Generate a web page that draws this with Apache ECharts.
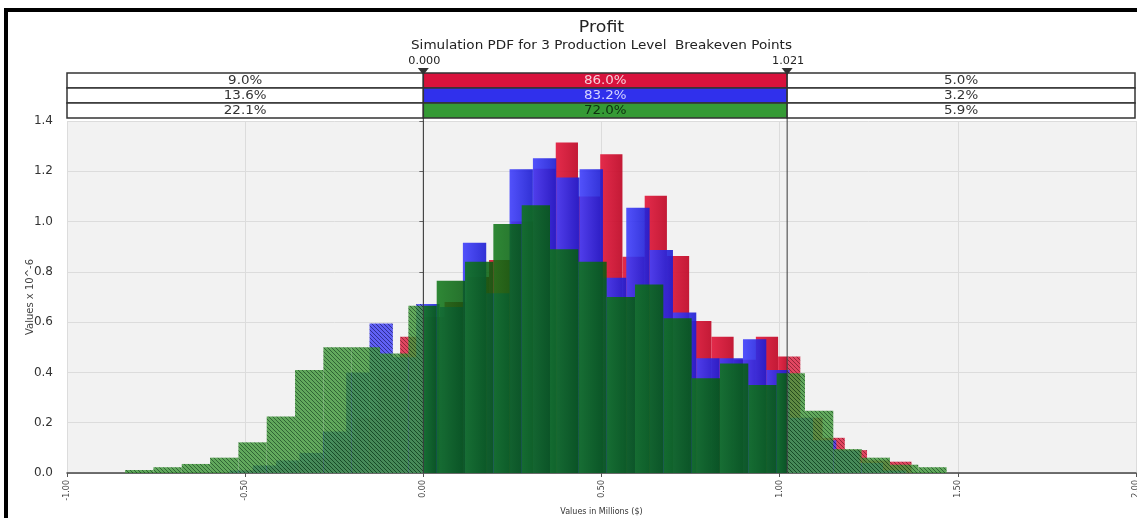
<!DOCTYPE html>
<html>
<head>
<meta charset="utf-8">
<script src="https://cdn.jsdelivr.net/npm/echarts@6/dist/echarts.min.js"></script>
<style>
  html, body { margin: 0; padding: 0; background: #ffffff; }
  #chart { width: 1137px; height: 518px; }
</style>
</head>
<body>
<div id="chart"></div>
<script>
// Breakeven limits (millions $)
const BREAKS = [0.000, 1.021];
// Share of each simulation below / between / above the limits (%)
const PCT_LOW = [9.0, 13.6, 22.1];
const PCT_MID = [86.0, 83.2, 72.0];
const PCT_HIGH = [5.0, 3.2, 5.9];

// Histogram bins: first edge, bin width (millions $) and density (x 10^-6)
const RED_START = -0.502, RED_WIDTH = 0.0624;
const RED_VALUES = [0.01, 0.02, 0.04, 0.06, 0.13, 0.22, 0.40, 0.542, 0.62, 0.68,
  0.78, 0.847, 1.00, 1.21, 1.314, 1.10, 1.268, 0.86, 1.103, 0.863,
  0.605, 0.542, 0.45, 0.542, 0.463, 0.22, 0.14, 0.091, 0.05, 0.045];

const BLUE_START = -0.544, BLUE_WIDTH = 0.0655;
const BLUE_VALUES = [0.01, 0.03, 0.05, 0.08, 0.165, 0.40, 0.595, 0.46, 0.672, 0.66,
  0.916, 0.715, 1.208, 1.252, 1.175, 1.208, 0.777, 1.055, 0.887, 0.638,
  0.456, 0.456, 0.532, 0.41, 0.22, 0.13, 0.09, 0.04, 0.01];

const GREEN_START = -0.837, GREEN_WIDTH = 0.0795;
const GREEN_VALUES = [0.012, 0.023, 0.036, 0.061, 0.122, 0.225, 0.41, 0.50, 0.50, 0.475,
  0.665, 0.765, 0.84, 0.99, 1.065, 0.89, 0.84, 0.70, 0.75, 0.615,
  0.377, 0.436, 0.35, 0.397, 0.248, 0.095, 0.061, 0.033, 0.023];

const FONT = 'DejaVu Sans, Verdana, sans-serif';

// Diagonal hatch tile used for the part of each bar outside the breakeven range
function hatchPattern(base, line) {
  const c = document.createElement('canvas');
  c.width = c.height = 4;
  const ctx = c.getContext('2d');
  ctx.fillStyle = base;
  ctx.fillRect(0, 0, 4, 4);
  for (let i = 0; i < 4; i++) {
    ctx.clearRect(i, i, 1, 1);
    ctx.fillStyle = line;
    ctx.fillRect(i, i, 1, 1);
  }
  return { image: c, repeat: 'repeat' };
}

function gradient(left, right) {
  return new echarts.graphic.LinearGradient(0, 0, 1, 0, [
    { offset: 0, color: left }, { offset: 1, color: right }
  ]);
}

const STYLES = {
  red: {
    solid: gradient('rgba(226,28,62,0.93)', 'rgba(192,10,40,0.93)'),
    hatch: hatchPattern('rgba(222,40,72,0.85)', 'rgba(140,15,35,0.9)')
  },
  blue: {
    solid: gradient('rgba(64,64,252,0.9)', 'rgba(28,28,210,0.9)'),
    hatch: hatchPattern('rgba(70,70,245,0.85)', 'rgba(25,25,140,0.9)')
  },
  green: {
    solid: gradient('rgba(14,118,22,0.86)', 'rgba(4,92,12,0.86)'),
    hatch: hatchPattern('rgba(66,152,60,0.82)', 'rgba(22,82,26,0.88)')
  }
};

function binData(start, width, values) {
  return values.map((v, i) => [start + i * width, start + (i + 1) * width, v]);
}

// Draws each bin as a rectangle, split at the breakeven limits
function histRenderer(style) {
  return function (params, api) {
    const a = api.value(0), b = api.value(1), h = api.value(2);
    const parts = [
      [a, Math.min(b, BREAKS[0]), style.hatch],
      [Math.max(a, BREAKS[0]), Math.min(b, BREAKS[1]), style.solid],
      [Math.max(a, BREAKS[1]), b, style.hatch]
    ];
    const children = [];
    for (const [x0, x1, fill] of parts) {
      if (x1 <= x0) continue;
      const tl = api.coord([x0, h]);
      const br = api.coord([x1, 0]);
      children.push({
        type: 'rect',
        shape: { x: tl[0], y: tl[1], width: br[0] - tl[0], height: br[1] - tl[1] },
        style: { fill: fill }
      });
    }
    return { type: 'group', children: children };
  };
}

function histSeries(name, start, width, values, style) {
  return {
    type: 'custom',
    name: name,
    data: binData(start, width, values),
    encode: { x: [0, 1], y: 2 },
    renderItem: histRenderer(style),
    silent: true
  };
}

const chart = echarts.init(document.getElementById('chart'), null, { renderer: 'canvas' });

chart.setOption({
  animation: false,
  backgroundColor: '#ffffff',
  grid: {
    left: 67, right: 1, top: 121, bottom: 45,
    outerBoundsMode: 'none',
    show: true, backgroundColor: '#f2f2f2', borderWidth: 0
  },
  xAxis: {
    type: 'value', min: -1, max: 2, interval: 0.5,
    name: 'Values in Millions ($)',
    nameLocation: 'middle', nameGap: 35, nameMoveOverlap: false,
    nameTextStyle: { fontFamily: FONT, fontSize: 8, color: '#333' },
    axisLine: { show: true, lineStyle: { color: '#444', width: 1.5 } },
    axisTick: { show: true, length: 4, lineStyle: { color: '#555' } },
    axisLabel: {
      rotate: 90, fontFamily: FONT, fontSize: 8, color: '#444', margin: 7,
      formatter: v => v.toFixed(2), showMinLabel: true, showMaxLabel: true
    },
    splitLine: { show: true, lineStyle: { color: '#dcdcdc' } }
  },
  yAxis: {
    type: 'value', min: 0, max: 1.4, interval: 0.2,
    name: 'Values x 10^-6',
    nameLocation: 'middle', nameGap: 32, nameMoveOverlap: false,
    nameTextStyle: { fontFamily: FONT, fontSize: 10, color: '#444' },
    axisLine: { show: true, lineStyle: { color: '#8a8a8a' } },
    axisTick: { show: true, length: 4, lineStyle: { color: '#666' } },
    axisLabel: { fontFamily: FONT, fontSize: 12, color: '#333', margin: 14, formatter: v => v.toFixed(1) },
    splitLine: { show: true, lineStyle: { color: '#dcdcdc' } }
  },
  series: [
    histSeries('Level 1', RED_START, RED_WIDTH, RED_VALUES, STYLES.red),
    histSeries('Level 2', BLUE_START, BLUE_WIDTH, BLUE_VALUES, STYLES.blue),
    histSeries('Level 3', GREEN_START, GREEN_WIDTH, GREEN_VALUES, STYLES.green)
  ]
});

// Header band: breakeven markers, percentage table and delimiter lines
const px = v => chart.convertToPixel({ xAxisIndex: 0 }, v);
const plotLeft = px(-1), plotRight = px(2);
const plotBottom = chart.convertToPixel({ yAxisIndex: 0 }, 0);
const bx = BREAKS.map(px);
const midX = (plotLeft + plotRight) / 2;

const ROW_TOP = 73, ROW_H = 15;
const rowFill = ['#d8123c', '#3030ec', '#359a35'];
const rowText = ['#f6d0da', '#d4d4ff', '#0e3010'];
const elements = [];

function label(x, y, text, size, color, sx) {
  return {
    type: 'text', z: 100, x: x, y: y, scaleX: sx || 1,
    style: { x: 0, y: 0, text: text, font: size + 'px ' + FONT, fill: color, align: 'center', verticalAlign: 'middle' }
  };
}

elements.push({
  type: 'rect', z: 100,
  shape: { x: 6, y: 10, width: 1160, height: 540 },
  style: { fill: 'none', stroke: '#000', lineWidth: 4 }
});

elements.push(label(midX, 28, 'Profit', 15, '#222', 1.16));
elements.push(label(midX, 46, 'Simulation PDF for 3 Production Level  Breakeven Points', 12, '#222', 1.13));

BREAKS.forEach((v, i) => {
  elements.push(label(bx[i] + 1, 61, v.toFixed(3), 11, '#222', 1.02));
  elements.push({
    type: 'line', z: 90,
    shape: { x1: bx[i], y1: ROW_TOP, x2: bx[i], y2: plotBottom },
    style: { stroke: '#3a3a3a', lineWidth: 1 }
  });
});

for (let r = 0; r < 3; r++) {
  const y = ROW_TOP + r * ROW_H;
  const cells = [
    [plotLeft, bx[0], '#ffffff', '#333', PCT_LOW[r]],
    [bx[0], bx[1], rowFill[r], rowText[r], PCT_MID[r]],
    [bx[1], plotRight - 1, '#ffffff', '#333', PCT_HIGH[r]]
  ];
  for (const [x0, x1, fill, tc, val] of cells) {
    elements.push({
      type: 'rect', z: 95,
      shape: { x: x0, y: y, width: x1 - x0, height: ROW_H },
      style: { fill: fill, stroke: '#333', lineWidth: 1.5 }
    });
    const t = label((x0 + x1) / 2, y + ROW_H / 2 + 0.5, val.toFixed(1) + '%', 12, tc, 1.12);
    t.z = 96;
    elements.push(t);
  }
}

bx.forEach(x => {
  elements.push({
    type: 'polygon', z: 97,
    shape: { points: [[x - 5.5, 68], [x + 5.5, 68], [x, 75]] },
    style: { fill: '#333' }
  });
});

chart.setOption({ graphic: { elements: elements } });
</script>
</body>
</html>
